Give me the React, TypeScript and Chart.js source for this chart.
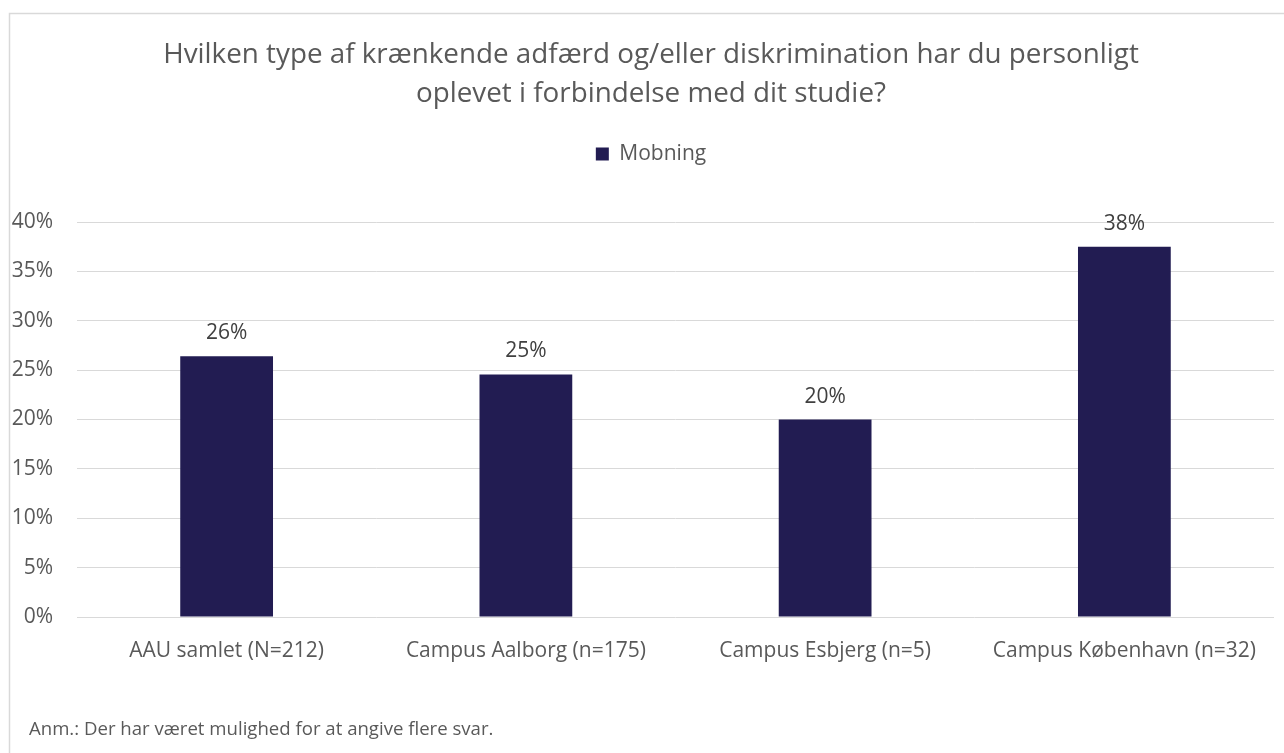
import React, { useEffect, useRef } from "react";
import { Chart, registerables, layouts } from "chart.js";

Chart.register(...registerables);

const categories = [
  "AAU samlet (N=212)",
  "Campus Aalborg (n=175)",
  "Campus Esbjerg (n=5)",
  "Campus København (n=32)",
];
const seriesName = "Mobning";
const mobning = [26.4, 24.57, 20, 37.5];
const titleLines = [
  "Hvilken type af krænkende adfærd og/eller diskrimination har du personligt",
  "oplevet i forbindelse med dit studie?",
];
const noteText = "Anm.: Der har været mulighed for at angive flere svar.";
const yMax = 40;
const yStep = 5;

const FONT = "'Open Sans', sans-serif";
const BAR = "#221C52";
const GRID = "#D9D9D9";
const TXT = "#595959";

const spacerPlugin = {
  id: "topSpacer",
  beforeInit(chart: any) {
    const box: any = {
      position: "top",
      weight: 100,
      fullSize: true,
      options: {},
      width: 0,
      height: 0,
      left: 0,
      top: 0,
      right: 0,
      bottom: 0,
      isHorizontal() {
        return true;
      },
      update(maxWidth: number) {
        this.width = maxWidth;
        this.height = 47.5;
      },
      draw() {},
    };
    layouts.addBox(chart, box);
  },
  afterLayout(chart: any) {
    // let the y tick labels extend into the left margin without being clipped
    const y = chart.scales.y;
    if (y) y.left = 0;
  },
};

const framePlugin = {
  id: "frame",
  beforeDraw(chart: any) {
    const ctx = chart.ctx;
    ctx.save();
    ctx.strokeStyle = GRID;
    ctx.lineWidth = 1.5;
    ctx.strokeRect(9.5, 13.5, 3000, 3000);
    ctx.restore();
  },
  afterDraw(chart: any) {
    const ctx = chart.ctx;
    ctx.save();
    ctx.fillStyle = TXT;
    ctx.font = `18.6px ${FONT}`;
    ctx.textAlign = "left";
    ctx.textBaseline = "alphabetic";
    ctx.fillText(noteText, 29, 735);
    ctx.restore();
  },
};

const valueLabelPlugin = {
  id: "valueLabels",
  afterDatasetsDraw(chart: any) {
    const ctx = chart.ctx;
    ctx.save();
    ctx.fillStyle = "#404040";
    ctx.font = `21px ${FONT}`;
    ctx.textAlign = "center";
    ctx.textBaseline = "alphabetic";
    chart.data.datasets.forEach((ds: any, di: number) => {
      const meta = chart.getDatasetMeta(di);
      meta.data.forEach((el: any, i: number) => {
        const v = ds.data[i];
        ctx.fillText(`${Math.round(v)}%`, el.x, el.y - 17);
      });
    });
    ctx.restore();
  },
};

export default function App() {
  const ref = useRef<HTMLCanvasElement | null>(null);
  useEffect(() => {
    if (!ref.current) return;
    const chart = new Chart(ref.current, {
      type: "bar",
      data: {
        labels: categories,
        datasets: [
          {
            label: seriesName,
            data: mobning,
            backgroundColor: BAR,
            borderWidth: 0,
            barPercentage: 0.31,
            categoryPercentage: 1,
          },
        ],
      },
      options: {
        responsive: false,
        animation: false,
        layout: { padding: { left: 28, right: 10, top: 0, bottom: 0 } },
        plugins: {
          title: {
            display: true,
            text: titleLines,
            color: TXT,
            font: { family: FONT, size: 27.8, weight: "normal", lineHeight: 1.403 },
            padding: { top: 35.5, bottom: 20 },
          },
          legend: {
            display: true,
            position: "top",
            labels: {
              color: TXT,
              font: { family: FONT, size: 21 },
              boxWidth: 13,
              boxHeight: 13,
              padding: 10,
            },
          },
          tooltip: { enabled: false },
        },
        scales: {
          x: {
            grid: { display: false, drawTicks: false, tickLength: 0 },
            border: { display: false },
            ticks: {
              color: TXT,
              font: { family: FONT, size: 21 },
              padding: 21,
              maxRotation: 0,
              autoSkip: false,
            },
            afterFit(scale: any) {
              scale.height = 136;
            },
          },
          y: {
            min: 0,
            max: yMax,
            grid: { color: GRID, lineWidth: 1, drawTicks: false, tickLength: 0 },
            border: { display: false },
            ticks: {
              stepSize: yStep,
              color: TXT,
              font: { family: FONT, size: 21 },
              padding: 24,
              callback: (v: any) => `${v}%`,
            },
            afterFit(scale: any) {
              scale.width = 49;
            },
          },
        },
      } as any,
      plugins: [spacerPlugin, framePlugin, valueLabelPlugin],
    });
    return () => chart.destroy();
  }, []);
  return (
    <div style={{ position: "fixed", left: 0, top: 0, width: 1284, height: 753, background: "#fff" }}>
      <canvas ref={ref} width={1284} height={753} />
    </div>
  );
}
